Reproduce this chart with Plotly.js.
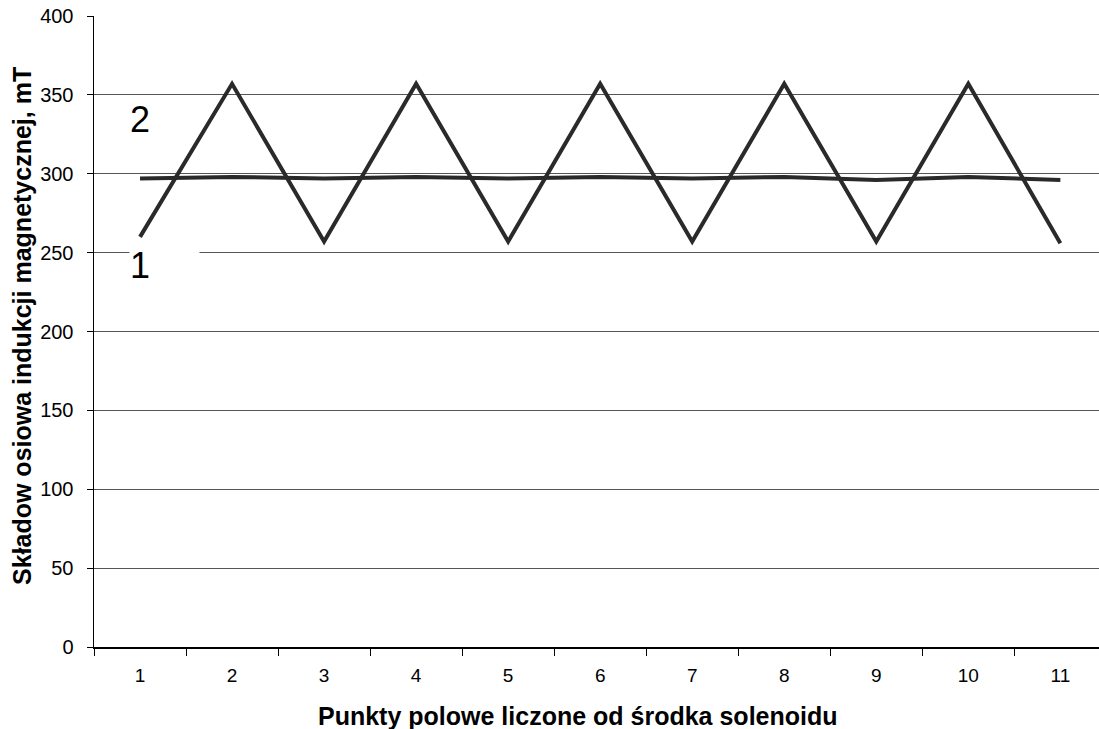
<!DOCTYPE html>
<html>
<head>
<meta charset="utf-8">
<script src="https://cdn.plot.ly/plotly-3.0.1.min.js"></script>
<style>html,body{margin:0;padding:0;background:#fff;}#chart{width:1099px;height:729px;}</style>
</head>
<body>
<div id="chart"></div>
<script>
const categories = ["1","2","3","4","5","6","7","8","9","10","11"];
const series1 = [297, 298, 297, 298, 297, 298, 297, 298, 296, 298, 296];
const series2 = [260, 357, 257, 357, 257, 357, 257, 357, 257, 357, 256];
const yTicks = [0, 50, 100, 150, 200, 250, 300, 350, 400];
const xTitle = "Punkty polowe liczone od środka solenoidu";
const yTitle = "Składow osiowa indukcji magnetycznej, mT";
const seriesLabels = ["1", "2"];

const font = "Arial, 'Liberation Sans', sans-serif";
const lineColor = "#2a2a2a";

const traces = [
  {x: categories, y: series1, type: "scatter", mode: "lines", name: seriesLabels[0],
   line: {color: lineColor, width: 4}},
  {x: categories, y: series2, type: "scatter", mode: "lines", name: seriesLabels[1],
   line: {color: lineColor, width: 4}}
];

const L = 94, R = 0, T = 16, B = 82, W = 1099, H = 729;
const pw = W - L - R, ph = H - T - B;
function px(xp){ return (xp - L) / pw; }
function py(yp){ return (H - B - yp) / ph; }

const layout = {
  width: W, height: H,
  margin: {l: L, r: R, t: T, b: B, pad: 0},
  paper_bgcolor: "#fff", plot_bgcolor: "#fff",
  showlegend: false,
  font: {family: font, color: "#000", size: 18},
  xaxis: {
    type: "category",
    range: [-0.5, 10.42],
    tickson: "boundaries",
    ticks: "outside", ticklen: 7, tickcolor: "#000", tickwidth: 1,
    ticklabelstandoff: 11,
    showgrid: false,
    showline: true, linecolor: "#000", linewidth: 1.5,
    zeroline: false,
    tickfont: {family: font, size: 19, color: "#000"},
    fixedrange: true
  },
  yaxis: {
    range: [0, 400],
    tickvals: yTicks,
    ticks: "outside", ticklen: 6, tickcolor: "#000", tickwidth: 1,
    ticklabelstandoff: 9,
    showgrid: true, gridcolor: "#555", gridwidth: 1,
    showline: true, linecolor: "#000", linewidth: 1.5,
    zeroline: false,
    tickfont: {family: font, size: 20, color: "#000"},
    fixedrange: true
  },
  annotations: [
    {text: xTitle, xref: "paper", yref: "paper", x: px(578), y: py(716),
     xanchor: "center", yanchor: "middle", showarrow: false,
     font: {family: font, size: 25, color: "#000", weight: "bold"}},
    {text: yTitle, xref: "paper", yref: "paper", x: px(22), y: py(326),
     xanchor: "center", yanchor: "middle", showarrow: false, textangle: -90,
     font: {family: font, size: 25, color: "#000", weight: "bold"}},
    {text: seriesLabels[1], xref: "paper", yref: "paper", x: px(129), y: py(119),
     xanchor: "left", yanchor: "middle", showarrow: false, align: "left",
     width: 46, height: 42, bgcolor: "#fff", borderpad: 0,
     font: {family: font, size: 36, color: "#000"}},
    {text: seriesLabels[0], xref: "paper", yref: "paper", x: px(129), y: py(265),
     xanchor: "left", yanchor: "middle", showarrow: false, align: "left",
     width: 69, height: 42, bgcolor: "#fff", borderpad: 0,
     font: {family: font, size: 36, color: "#000"}}
  ]
};

Plotly.newPlot("chart", traces, layout, {staticPlot: true, displayModeBar: false});
</script>
</body>
</html>
